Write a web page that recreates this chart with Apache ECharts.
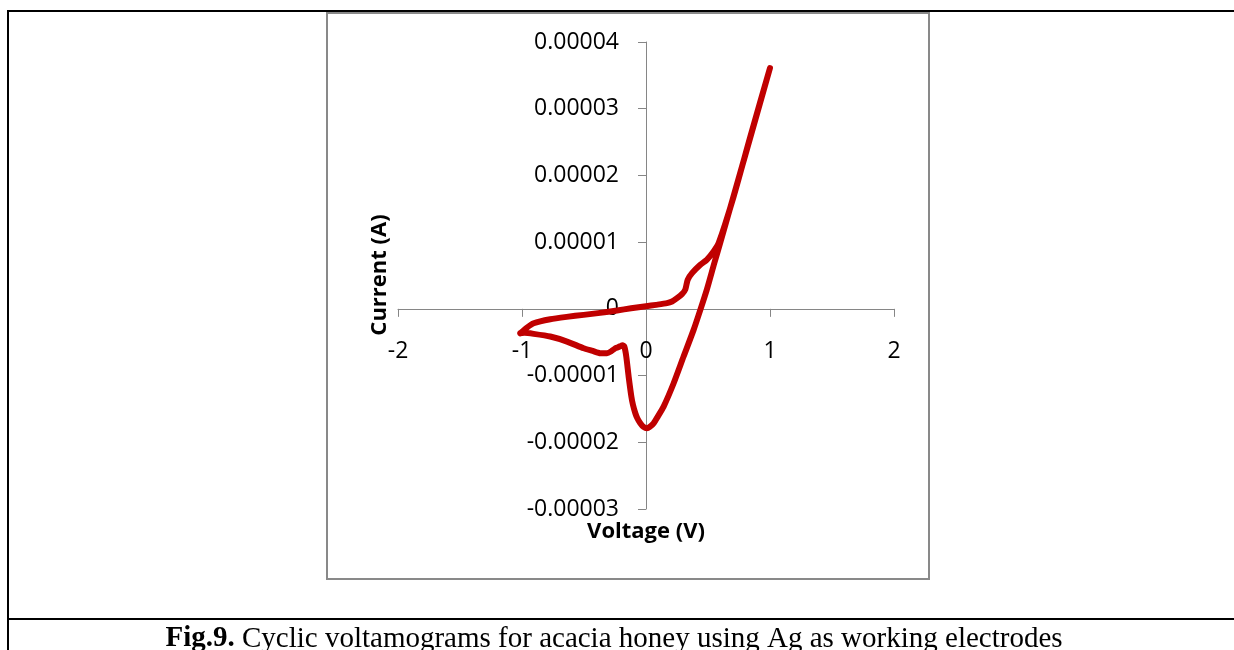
<!DOCTYPE html>
<html>
<head>
<meta charset="utf-8">
<script src="https://cdn.jsdelivr.net/npm/echarts@6.0.0/dist/echarts.min.js"></script>
<style>
  html, body { margin: 0; padding: 0; background: #fff; }
  #chartCv { width: 1234px; height: 650px; }
</style>
</head>
<body>
<div id="chartCv"></div>
<script>
// 循环伏安曲线 (acacia honey, Ag electrode)
// forward scan: -1 V -> +1 V
var fwdVoltage = [-1.014, -0.96, -0.906, -0.772, -0.64, -0.503, -0.37, -0.234, -0.12, 0.0, 0.08, 0.169, 0.21, 0.25, 0.29, 0.317, 0.336, 0.371, 0.438, 0.49, 0.545, 0.586, 0.706, 0.841, 1.0];
var fwdCurrent = [-3.65e-6, -2.8e-6, -2.15e-6, -1.55e-6, -1.2e-6, -0.9e-6, -0.6e-6, -0.25e-6, 0.1e-6, 0.4e-6, 0.6e-6, 0.85e-6, 1.1e-6, 1.6e-6, 2.2e-6, 2.9e-6, 4.35e-6, 5.35e-6, 6.6e-6, 7.35e-6, 8.6e-6, 9.85e-6, 16.8e-6, 25.8e-6, 36.1e-6];
// reverse scan: +1 V -> -1 V
var revVoltage = [0.8, 0.6, 0.55, 0.49, 0.438, 0.384, 0.303, 0.223, 0.142, 0.09, 0.061, 0.03, 0.008, -0.02, -0.046, -0.07, -0.086, -0.105, -0.118, -0.14, -0.159, -0.175, -0.19, -0.202, -0.225, -0.248, -0.28, -0.315, -0.369, -0.43, -0.503, -0.637, -0.772, -0.906, -0.98, -1.014];
var revCurrent = [23e-6, 10e-6, 6.8e-6, 2.85e-6, -0.15e-6, -3.15e-6, -7.15e-6, -11.15e-6, -14.65e-6, -16.3e-6, -17.15e-6, -17.7e-6, -17.9e-6, -17.7e-6, -17.15e-6, -16.4e-6, -15.65e-6, -14.4e-6, -13.15e-6, -10.15e-6, -7.15e-6, -5.65e-6, -5.45e-6, -5.55e-6, -5.75e-6, -5.9e-6, -6.35e-6, -6.65e-6, -6.65e-6, -6.3e-6, -5.9e-6, -4.9e-6, -4.15e-6, -3.75e-6, -3.6e-6, -3.65e-6];

var xTicks = [-2, -1, 0, 1, 2];
var yTicks = [-0.00003, -0.00002, -0.00001, 0, 0.00001, 0.00002, 0.00003, 0.00004];

var caption = 'Cyclic voltamograms for acacia honey using Ag as working electrodes';

function buildData() {
  var d = [];
  fwdVoltage.forEach(function(v, i){ d.push([v, fwdCurrent[i]]); });
  revVoltage.forEach(function(v, i){ d.push([v, revCurrent[i]]); });
  return d;
}

var axisColor = '#868686';
var labelFont = '"Open Sans", "Noto Sans", sans-serif';
var serifFont = '"Liberation Serif", "Times New Roman", serif';

// plot area
var G = { left: 398, right: 340, top: 42, bottom: 141 };
var plotW = 1234 - G.left - G.right;
var plotH = 650 - G.top - G.bottom;
var xMin = xTicks[0], xMax = xTicks[xTicks.length - 1];
var yMin = yTicks[0], yMax = yTicks[yTicks.length - 1];
// axes cross at zero (labels follow the lines, like Excel)
var xAxisOffset = -plotH * (0 - yMin) / (yMax - yMin);
var yAxisOffset = -plotW * (0 - xMin) / (xMax - xMin);

var option = {
  animation: false,
  backgroundColor: '#fff',
  grid: G,
  xAxis: {
    type: 'value',
    position: 'bottom',
    offset: xAxisOffset,
    min: xMin,
    max: xMax,
    interval: 1,
    splitLine: { show: false },
    axisLine: { onZero: false, lineStyle: { color: axisColor, width: 1 } },
    axisTick: { show: true, length: 8, lineStyle: { color: axisColor } },
    axisLabel: { margin: 31, fontSize: 23, fontFamily: labelFont, color: '#000' }
  },
  yAxis: {
    type: 'value',
    position: 'left',
    offset: yAxisOffset,
    min: yMin,
    max: yMax,
    interval: 0.00001,
    splitLine: { show: false },
    axisLine: { onZero: false, lineStyle: { color: axisColor, width: 1 } },
    axisTick: { show: true, length: 8, lineStyle: { color: axisColor } },
    axisLabel: {
      margin: 27, fontSize: 23, fontFamily: labelFont, color: '#000',
      formatter: function(v){
        if (Math.abs(v) < 1e-12) return '0';
        return v.toFixed(5);
      }
    }
  },
  series: [{
    type: 'line',
    data: buildData(),
    symbol: 'none',
    smooth: 0.2,
    lineStyle: { color: '#C00000', width: 6, cap: 'round', join: 'round' },
    z: 3
  }],
  graphic: [
    // 外框 (table lines)
    { type: 'line', shape: { x1: 8, y1: 11, x2: 1234, y2: 11 }, style: { stroke: '#000', lineWidth: 2 } },
    { type: 'line', shape: { x1: 8, y1: 10, x2: 8, y2: 650 }, style: { stroke: '#000', lineWidth: 2 } },
    { type: 'line', shape: { x1: 8, y1: 619, x2: 1234, y2: 619 }, style: { stroke: '#000', lineWidth: 2 } },
    // chart area border
    { type: 'rect', shape: { x: 327, y: 13, width: 602, height: 566 }, style: { fill: 'none', stroke: '#898989', lineWidth: 2 } },
    // axis titles
    { type: 'text', x: 380, y: 275, rotation: Math.PI / 2,
      style: { text: 'Current (A)', fontSize: 22, fontWeight: 'bold', fontFamily: labelFont, fill: '#000', align: 'center', verticalAlign: 'middle' } },
    { type: 'text', x: 646, y: 532,
      style: { text: 'Voltage (V)', fontSize: 22, fontWeight: 'bold', fontFamily: labelFont, fill: '#000', align: 'center', verticalAlign: 'middle' } },
    // caption
    { type: 'text', x: 614, y: 639,
      style: {
        text: '{b|Fig.9.} ' + caption,
        fontSize: 29, fontFamily: serifFont, fill: '#000',
        align: 'center', verticalAlign: 'middle',
        rich: { b: { fontWeight: 'bold', fontSize: 29, fontFamily: serifFont } }
      } }
  ]
};

var myChart = echarts.init(document.getElementById('chartCv'));
myChart.setOption(option);
</script>
</body>
</html>
